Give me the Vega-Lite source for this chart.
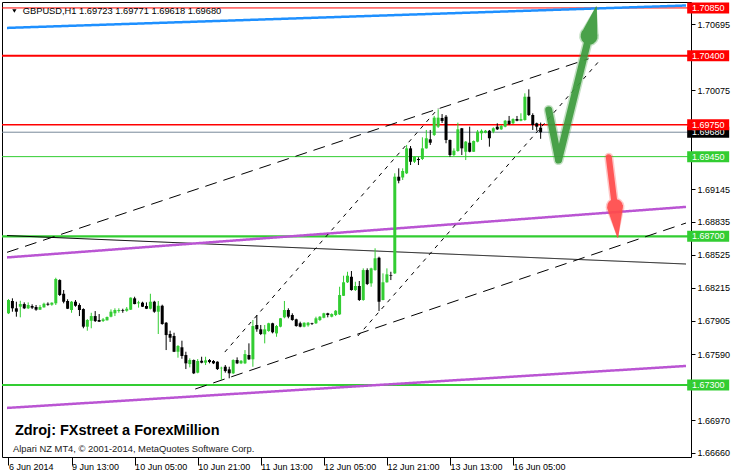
{
  "$schema": "https://vega.github.io/schema/vega-lite/v6.json",
  "width": 689,
  "height": 455,
  "autosize": {"type": "none"},
  "padding": {"left": 2, "top": 2, "right": 43, "bottom": 18},
  "background": "#ffffff",
  "config": {
    "view": {"stroke": "#000000", "strokeWidth": 1},
    "font": "Liberation Sans",
    "axis": {"labelFont": "Liberation Sans", "labelFontSize": 9, "labelColor": "#000000", "tickColor": "#000000", "domain": false, "grid": false}
  },
  "datasets": {
    "candles": [
      {"i":0,"o":1.67975,"h":1.68109,"l":1.67968,"c":1.68100},
      {"i":1,"o":1.68091,"h":1.68116,"l":1.67990,"c":1.68022},
      {"i":2,"o":1.68022,"h":1.68084,"l":1.67943,"c":1.67990},
      {"i":3,"o":1.68037,"h":1.68093,"l":1.67937,"c":1.68062},
      {"i":4,"o":1.68062,"h":1.68078,"l":1.68015,"c":1.68022},
      {"i":5,"o":1.68022,"h":1.68078,"l":1.68015,"c":1.68053},
      {"i":6,"o":1.68044,"h":1.68060,"l":1.68015,"c":1.68028},
      {"i":7,"o":1.68034,"h":1.68053,"l":1.67999,"c":1.68009},
      {"i":8,"o":1.68009,"h":1.68053,"l":1.68006,"c":1.68034},
      {"i":9,"o":1.68031,"h":1.68075,"l":1.68028,"c":1.68065},
      {"i":10,"o":1.68065,"h":1.68078,"l":1.68046,"c":1.68056},
      {"i":11,"o":1.68056,"h":1.68078,"l":1.68046,"c":1.68075},
      {"i":12,"o":1.68069,"h":1.68310,"l":1.68053,"c":1.68298},
      {"i":13,"o":1.68288,"h":1.68295,"l":1.68138,"c":1.68147},
      {"i":14,"o":1.68159,"h":1.68194,"l":1.68069,"c":1.68084},
      {"i":15,"o":1.68091,"h":1.68107,"l":1.68015,"c":1.68018},
      {"i":16,"o":1.68006,"h":1.68091,"l":1.67980,"c":1.68084},
      {"i":17,"o":1.68084,"h":1.68100,"l":1.68037,"c":1.68046},
      {"i":18,"o":1.68053,"h":1.68069,"l":1.67949,"c":1.68006},
      {"i":19,"o":1.68015,"h":1.68022,"l":1.67834,"c":1.67849},
      {"i":20,"o":1.67849,"h":1.67921,"l":1.67811,"c":1.67912},
      {"i":21,"o":1.67905,"h":1.67980,"l":1.67834,"c":1.67949},
      {"i":22,"o":1.67949,"h":1.67996,"l":1.67893,"c":1.67902},
      {"i":23,"o":1.67912,"h":1.67968,"l":1.67893,"c":1.67896},
      {"i":24,"o":1.67902,"h":1.67931,"l":1.67893,"c":1.67918},
      {"i":25,"o":1.67909,"h":1.67945,"l":1.67907,"c":1.67940},
      {"i":26,"o":1.67943,"h":1.68012,"l":1.67937,"c":1.67990},
      {"i":27,"o":1.67975,"h":1.68022,"l":1.67949,"c":1.68006},
      {"i":28,"o":1.67996,"h":1.68022,"l":1.67980,"c":1.68006},
      {"i":29,"o":1.68006,"h":1.68018,"l":1.67980,"c":1.67999},
      {"i":30,"o":1.67999,"h":1.68034,"l":1.67990,"c":1.68018},
      {"i":31,"o":1.68009,"h":1.68125,"l":1.68006,"c":1.68122},
      {"i":32,"o":1.68116,"h":1.68131,"l":1.68060,"c":1.68062},
      {"i":33,"o":1.68069,"h":1.68093,"l":1.68028,"c":1.68078},
      {"i":34,"o":1.68075,"h":1.68084,"l":1.68034,"c":1.68037},
      {"i":35,"o":1.68044,"h":1.68078,"l":1.68015,"c":1.68018},
      {"i":36,"o":1.68018,"h":1.68159,"l":1.68012,"c":1.68084},
      {"i":37,"o":1.68084,"h":1.68093,"l":1.67980,"c":1.67990},
      {"i":38,"o":1.67990,"h":1.68091,"l":1.67780,"c":1.68046},
      {"i":39,"o":1.68046,"h":1.68056,"l":1.67867,"c":1.67874},
      {"i":40,"o":1.67886,"h":1.67893,"l":1.67629,"c":1.67770},
      {"i":41,"o":1.67780,"h":1.67811,"l":1.67705,"c":1.67745},
      {"i":42,"o":1.67761,"h":1.67792,"l":1.67610,"c":1.67613},
      {"i":43,"o":1.67613,"h":1.67676,"l":1.67557,"c":1.67667},
      {"i":44,"o":1.67655,"h":1.67717,"l":1.67547,"c":1.67573},
      {"i":45,"o":1.67582,"h":1.67613,"l":1.67450,"c":1.67504},
      {"i":46,"o":1.67497,"h":1.67551,"l":1.67466,"c":1.67535},
      {"i":47,"o":1.67535,"h":1.67540,"l":1.67403,"c":1.67410},
      {"i":48,"o":1.67416,"h":1.67544,"l":1.67410,"c":1.67526},
      {"i":49,"o":1.67528,"h":1.67566,"l":1.67504,"c":1.67510},
      {"i":50,"o":1.67510,"h":1.67566,"l":1.67488,"c":1.67532},
      {"i":51,"o":1.67535,"h":1.67544,"l":1.67504,"c":1.67516},
      {"i":52,"o":1.67526,"h":1.67535,"l":1.67497,"c":1.67504},
      {"i":53,"o":1.67519,"h":1.67523,"l":1.67441,"c":1.67450},
      {"i":54,"o":1.67457,"h":1.67472,"l":1.67347,"c":1.67462},
      {"i":55,"o":1.67472,"h":1.67488,"l":1.67416,"c":1.67431},
      {"i":56,"o":1.67447,"h":1.67472,"l":1.67363,"c":1.67410},
      {"i":57,"o":1.67410,"h":1.67542,"l":1.67403,"c":1.67535},
      {"i":58,"o":1.67535,"h":1.67560,"l":1.67497,"c":1.67504},
      {"i":59,"o":1.67504,"h":1.67535,"l":1.67497,"c":1.67528},
      {"i":60,"o":1.67504,"h":1.67629,"l":1.67497,"c":1.67591},
      {"i":61,"o":1.67582,"h":1.67692,"l":1.67535,"c":1.67542},
      {"i":62,"o":1.67542,"h":1.67912,"l":1.67472,"c":1.67855},
      {"i":63,"o":1.67865,"h":1.67959,"l":1.67801,"c":1.67824},
      {"i":64,"o":1.67824,"h":1.67865,"l":1.67770,"c":1.67780},
      {"i":65,"o":1.67777,"h":1.67865,"l":1.67692,"c":1.67824},
      {"i":66,"o":1.67808,"h":1.67886,"l":1.67801,"c":1.67881},
      {"i":67,"o":1.67881,"h":1.67886,"l":1.67786,"c":1.67796},
      {"i":68,"o":1.67786,"h":1.67865,"l":1.67754,"c":1.67855},
      {"i":69,"o":1.67849,"h":1.67931,"l":1.67843,"c":1.67928},
      {"i":70,"o":1.67937,"h":1.68091,"l":1.67928,"c":1.68006},
      {"i":71,"o":1.68006,"h":1.68022,"l":1.67928,"c":1.67943},
      {"i":72,"o":1.67959,"h":1.67975,"l":1.67905,"c":1.67912},
      {"i":73,"o":1.67918,"h":1.67924,"l":1.67849,"c":1.67855},
      {"i":74,"o":1.67881,"h":1.67896,"l":1.67843,"c":1.67849},
      {"i":75,"o":1.67849,"h":1.67890,"l":1.67843,"c":1.67886},
      {"i":76,"o":1.67862,"h":1.67893,"l":1.67849,"c":1.67886},
      {"i":77,"o":1.67881,"h":1.67886,"l":1.67865,"c":1.67874},
      {"i":78,"o":1.67881,"h":1.67943,"l":1.67874,"c":1.67928},
      {"i":79,"o":1.67912,"h":1.67949,"l":1.67902,"c":1.67943},
      {"i":80,"o":1.67933,"h":1.67980,"l":1.67928,"c":1.67975},
      {"i":81,"o":1.67975,"h":1.67980,"l":1.67937,"c":1.67959},
      {"i":82,"o":1.67943,"h":1.67975,"l":1.67937,"c":1.67968},
      {"i":83,"o":1.67959,"h":1.68006,"l":1.67949,"c":1.67999},
      {"i":84,"o":1.67965,"h":1.68225,"l":1.67959,"c":1.68147},
      {"i":85,"o":1.68140,"h":1.68329,"l":1.68138,"c":1.68267},
      {"i":86,"o":1.68267,"h":1.68366,"l":1.68260,"c":1.68329},
      {"i":87,"o":1.68319,"h":1.68373,"l":1.68188,"c":1.68194},
      {"i":88,"o":1.68194,"h":1.68272,"l":1.68185,"c":1.68232},
      {"i":89,"o":1.68232,"h":1.68279,"l":1.68091,"c":1.68100},
      {"i":90,"o":1.68100,"h":1.68398,"l":1.68093,"c":1.68382},
      {"i":91,"o":1.68382,"h":1.68398,"l":1.68241,"c":1.68251},
      {"i":92,"o":1.68257,"h":1.68404,"l":1.68225,"c":1.68398},
      {"i":93,"o":1.68382,"h":1.68587,"l":1.68376,"c":1.68493},
      {"i":94,"o":1.68498,"h":1.68508,"l":1.67996,"c":1.68084},
      {"i":95,"o":1.68100,"h":1.68351,"l":1.68097,"c":1.68267},
      {"i":96,"o":1.68267,"h":1.68398,"l":1.68263,"c":1.68342},
      {"i":97,"o":1.68335,"h":1.68366,"l":1.68288,"c":1.68329},
      {"i":98,"o":1.68351,"h":1.69293,"l":1.68345,"c":1.69261},
      {"i":99,"o":1.69261,"h":1.69340,"l":1.69199,"c":1.69223},
      {"i":100,"o":1.69254,"h":1.69340,"l":1.69230,"c":1.69315},
      {"i":101,"o":1.69293,"h":1.69560,"l":1.69286,"c":1.69528},
      {"i":102,"o":1.69528,"h":1.69550,"l":1.69371,"c":1.69402},
      {"i":103,"o":1.69402,"h":1.69456,"l":1.69390,"c":1.69449},
      {"i":104,"o":1.69428,"h":1.69444,"l":1.69371,"c":1.69418},
      {"i":105,"o":1.69428,"h":1.69632,"l":1.69418,"c":1.69528},
      {"i":106,"o":1.69528,"h":1.69701,"l":1.69525,"c":1.69623},
      {"i":107,"o":1.69613,"h":1.69701,"l":1.69560,"c":1.69581},
      {"i":108,"o":1.69654,"h":1.69833,"l":1.69644,"c":1.69817},
      {"i":109,"o":1.69732,"h":1.69896,"l":1.69720,"c":1.69817},
      {"i":110,"o":1.69814,"h":1.69851,"l":1.69767,"c":1.69786},
      {"i":111,"o":1.69826,"h":1.69842,"l":1.69576,"c":1.69607},
      {"i":112,"o":1.69607,"h":1.69611,"l":1.69449,"c":1.69465},
      {"i":113,"o":1.69465,"h":1.69528,"l":1.69456,"c":1.69506},
      {"i":114,"o":1.69503,"h":1.69770,"l":1.69496,"c":1.69707},
      {"i":115,"o":1.69717,"h":1.69720,"l":1.69465,"c":1.69528},
      {"i":116,"o":1.69496,"h":1.69597,"l":1.69418,"c":1.69591},
      {"i":117,"o":1.69581,"h":1.69732,"l":1.69491,"c":1.69496},
      {"i":118,"o":1.69496,"h":1.69602,"l":1.69494,"c":1.69597},
      {"i":119,"o":1.69591,"h":1.69701,"l":1.69585,"c":1.69685},
      {"i":120,"o":1.69670,"h":1.69707,"l":1.69607,"c":1.69694},
      {"i":121,"o":1.69675,"h":1.69701,"l":1.69670,"c":1.69694},
      {"i":122,"o":1.69694,"h":1.69701,"l":1.69544,"c":1.69623},
      {"i":123,"o":1.69685,"h":1.69726,"l":1.69670,"c":1.69717},
      {"i":124,"o":1.69732,"h":1.69764,"l":1.69701,"c":1.69707},
      {"i":125,"o":1.69707,"h":1.69748,"l":1.69701,"c":1.69738},
      {"i":126,"o":1.69732,"h":1.69795,"l":1.69726,"c":1.69788},
      {"i":127,"o":1.69788,"h":1.69833,"l":1.69748,"c":1.69757},
      {"i":128,"o":1.69764,"h":1.69811,"l":1.69757,"c":1.69804},
      {"i":129,"o":1.69804,"h":1.69833,"l":1.69783,"c":1.69788},
      {"i":130,"o":1.69788,"h":1.69858,"l":1.69783,"c":1.69804},
      {"i":131,"o":1.69795,"h":1.70046,"l":1.69788,"c":1.70014},
      {"i":132,"o":1.70014,"h":1.70084,"l":1.69833,"c":1.69842},
      {"i":133,"o":1.69842,"h":1.69858,"l":1.69701,"c":1.69748},
      {"i":134,"o":1.69764,"h":1.69770,"l":1.69694,"c":1.69732},
      {"i":135,"o":1.69723,"h":1.69771,"l":1.69618,"c":1.69680}
    ],
    "levels": [
      {"p":1.69680,"kind":"bid"},
      {"p":1.70850,"kind":"target"},
      {"p":1.70400,"kind":"resistance strong"},
      {"p":1.69750,"kind":"resistance"},
      {"p":1.69450,"kind":"support"},
      {"p":1.68700,"kind":"support strong"},
      {"p":1.67300,"kind":"support strong"}
    ],
    "trend": [
      {"id":"blue","kind":"resistance trend","i":-0.375,"p":1.70662},
      {"id":"blue","kind":"resistance trend","i":171.875,"p":1.70873},
      {"id":"black","kind":"down trend","i":-0.375,"p":1.68707},
      {"id":"black","kind":"down trend","i":171.875,"p":1.68439},
      {"id":"purple1","kind":"support trend","i":-0.375,"p":1.68501},
      {"id":"purple1","kind":"support trend","i":171.875,"p":1.68977},
      {"id":"purple2","kind":"support trend","i":-0.375,"p":1.67084},
      {"id":"purple2","kind":"support trend","i":171.875,"p":1.67479},
      {"id":"outer1","kind":"outer channel","i":-0.375,"p":1.68549},
      {"id":"outer1","kind":"outer channel","i":147.125,"p":1.70371},
      {"id":"outer2","kind":"outer channel","i":47.375,"p":1.67262},
      {"id":"outer2","kind":"outer channel","i":171.875,"p":1.68825},
      {"id":"inner1","kind":"inner channel","i":54.875,"p":1.67610},
      {"id":"inner1","kind":"inner channel","i":109.125,"p":1.69908},
      {"id":"inner2","kind":"inner channel","i":88.625,"p":1.67761},
      {"id":"inner2","kind":"inner channel","i":149.625,"p":1.70341}
    ],
    "arrows": [
      {"arrow":"up","k":0,"part":"shaft","i":137.05,"p":1.69889},
      {"arrow":"up","k":1,"part":"shaft","i":139.55,"p":1.69418},
      {"arrow":"up","k":2,"part":"shaft","i":147.225,"p":1.70576},
      {"arrow":"up","k":3,"part":"head","i":147.3,"p":1.70585},
      {"arrow":"up","k":4,"part":"tip","i":149.125,"p":1.70859},
      {"arrow":"down","k":0,"part":"shaft","i":152.3,"p":1.69444},
      {"arrow":"down","k":1,"part":"shaft","i":153.825,"p":1.68985},
      {"arrow":"down","k":2,"part":"head","i":153.875,"p":1.68976},
      {"arrow":"down","k":3,"part":"tip","i":154.55,"p":1.68691}
    ],
    "notes": [
      {"role":"header","text":"GBPUSD,H1  1.69723 1.69771 1.69618 1.69680"},
      {"role":"source","text":"Zdroj: FXstreet a ForexMillion"},
      {"role":"credit","text":"Alpari NZ MT4, © 2001-2014, MetaQuotes Software Corp."}
    ]
  },
  "resolve": {"scale": {"color": "independent", "strokeWidth": "independent", "strokeDash": "independent", "size": "independent"}},
  "layer": [
    {
      "data": {"name": "levels"},
      "mark": {"type": "rule", "clip": true},
      "encoding": {
        "y": {"field": "p", "type": "quantitative", "title": null, "scale": {"domain": [1.66622, 1.70906], "nice": false, "zero": false}},
        "color": {"field": "kind", "type": "nominal", "legend": null, "scale": {"type": "ordinal", "domain": ["target","resistance strong","resistance","bid","support","support strong"], "range": ["#FF0000","#FF0000","#FF0000","#778899","#32CD32","#32CD32"]}},
        "strokeWidth": {"field": "kind", "type": "nominal", "legend": null, "scale": {"type": "ordinal", "domain": ["target","resistance strong","resistance","bid","support","support strong"], "range": [1, 2, 1.5, 1, 1, 2.2]}}
      }
    },
    {
      "data": {"name": "trend"},
      "mark": {"type": "line", "clip": true},
      "encoding": {
        "x": {"field": "i", "type": "quantitative", "title": null, "scale": {"domain": [-0.375, 171.875], "nice": false, "zero": false}},
        "y": {"field": "p", "type": "quantitative", "title": null, "scale": {"domain": [1.66622, 1.70906], "nice": false, "zero": false}},
        "detail": {"field": "id"},
        "color": {"field": "kind", "type": "nominal", "legend": null, "scale": {"type": "ordinal", "domain": ["resistance trend","support trend","down trend","outer channel","inner channel"], "range": ["#1E90FF","#BA55D3","#000000","#000000","#000000"]}},
        "strokeWidth": {"field": "kind", "type": "nominal", "legend": null, "scale": {"type": "ordinal", "domain": ["resistance trend","support trend","down trend","outer channel","inner channel"], "range": [2.5, 2.5, 1, 1, 1]}},
        "strokeDash": {"field": "kind", "type": "nominal", "legend": null, "scale": {"type": "ordinal", "domain": ["resistance trend","support trend","down trend","outer channel","inner channel"], "range": [[1,0],[1,0],[1,0],[12,7],[4,5]]}}
      }
    },
    {
      "data": {"name": "candles"},
      "mark": {"type": "rule", "strokeWidth": 1},
      "encoding": {
        "x": {"field": "i", "type": "quantitative", "title": null, "scale": {"domain": [-0.375, 171.875], "nice": false, "zero": false}},
        "y": {"field": "l", "type": "quantitative", "title": null, "scale": {"domain": [1.66622, 1.70906], "nice": false, "zero": false}},
        "y2": {"field": "h"},
        "color": {"condition": {"test": "datum.c >= datum.o", "value": "#32CD32"}, "value": "#000000"}
      }
    },
    {
      "data": {"name": "candles"},
      "mark": {"type": "bar", "width": 3, "orient": "vertical"},
      "encoding": {
        "x": {"field": "i", "type": "quantitative", "title": null, "scale": {"domain": [-0.375, 171.875], "nice": false, "zero": false},
          "axis": {"orient": "bottom", "title": null, "values": [0,16,32,48,64,80,96,112,128],
            "labelExpr": "['6 Jun 2014','9 Jun 13:00','10 Jun 05:00','10 Jun 21:00','11 Jun 13:00','12 Jun 05:00','12 Jun 21:00','13 Jun 13:00','16 Jun 05:00'][round(datum.value/16)]",
            "labelAlign": "left", "labelDx": 1, "labelBaseline": "alphabetic", "labelPadding": 4, "tickSize": 8,
            "labelFlush": false, "labelOverlap": false, "labelBound": false, "domain": false, "grid": false}},
        "y": {"field": "o", "type": "quantitative", "title": null, "scale": {"domain": [1.66622, 1.70906], "nice": false, "zero": false},
          "axis": {"orient": "right", "title": null, "values": [1.70695,1.70075,1.69145,1.68835,1.68525,1.68215,1.67905,1.6759,1.6697,1.6666],
            "format": ".5f", "tickSize": 4, "labelPadding": 2, "labelAlign": "left", "labelBaseline": "middle",
            "labelFlush": false, "labelOverlap": false, "labelBound": false, "domain": false, "grid": false}},
        "y2": {"field": "c"},
        "color": {"condition": {"test": "datum.c >= datum.o", "value": "#32CD32"}, "value": "#000000"}
      }
    },
    {
      "data": {"name": "arrows"},
      "transform": [{"filter": "datum.arrow == 'up'"}],
      "mark": {"type": "trail", "color": "#3C9A3C", "opacity": 0.3, "clip": false},
      "encoding": {
        "x": {"field": "i", "type": "quantitative", "title": null, "scale": {"domain": [-0.375, 171.875], "nice": false, "zero": false}},
        "y": {"field": "p", "type": "quantitative", "title": null, "scale": {"domain": [1.66622, 1.70906], "nice": false, "zero": false}},
        "order": {"field": "k"},
        "size": {"field": "part", "type": "nominal", "legend": null, "scale": {"type": "ordinal", "domain": ["shaft","head","tip"], "range": [10, 20, 0]}}
      }
    },
    {
      "data": {"name": "arrows"},
      "transform": [{"filter": "datum.arrow == 'up'"}],
      "mark": {"type": "trail", "color": "#3C9A3C", "opacity": 0.9, "clip": false},
      "encoding": {
        "x": {"field": "i", "type": "quantitative", "title": null, "scale": {"domain": [-0.375, 171.875], "nice": false, "zero": false}},
        "y": {"field": "p", "type": "quantitative", "title": null, "scale": {"domain": [1.66622, 1.70906], "nice": false, "zero": false}},
        "order": {"field": "k"},
        "size": {"field": "part", "type": "nominal", "legend": null, "scale": {"type": "ordinal", "domain": ["shaft","head","tip"], "range": [7, 17, 0]}}
      }
    },
    {
      "data": {"name": "arrows"},
      "transform": [{"filter": "datum.arrow == 'down'"}],
      "mark": {"type": "trail", "color": "#FF4A4A", "opacity": 0.3, "clip": false},
      "encoding": {
        "x": {"field": "i", "type": "quantitative", "title": null, "scale": {"domain": [-0.375, 171.875], "nice": false, "zero": false}},
        "y": {"field": "p", "type": "quantitative", "title": null, "scale": {"domain": [1.66622, 1.70906], "nice": false, "zero": false}},
        "order": {"field": "k"},
        "size": {"field": "part", "type": "nominal", "legend": null, "scale": {"type": "ordinal", "domain": ["shaft","head","tip"], "range": [9, 19, 0]}}
      }
    },
    {
      "data": {"name": "arrows"},
      "transform": [{"filter": "datum.arrow == 'down'"}],
      "mark": {"type": "trail", "color": "#FF4A4A", "opacity": 0.9, "clip": false},
      "encoding": {
        "x": {"field": "i", "type": "quantitative", "title": null, "scale": {"domain": [-0.375, 171.875], "nice": false, "zero": false}},
        "y": {"field": "p", "type": "quantitative", "title": null, "scale": {"domain": [1.66622, 1.70906], "nice": false, "zero": false}},
        "order": {"field": "k"},
        "size": {"field": "part", "type": "nominal", "legend": null, "scale": {"type": "ordinal", "domain": ["shaft","head","tip"], "range": [6, 16, 0]}}
      }
    },
    {
      "data": {"name": "notes"},
      "transform": [{"filter": "datum.role == 'header'"}],
      "mark": {"type": "text", "align": "left", "baseline": "alphabetic", "fontSize": 9.3, "color": "#000000", "clip": false},
      "encoding": {
        "x": {"datum": 3.625, "type": "quantitative", "scale": {"domain": [-0.375, 171.875], "nice": false, "zero": false}},
        "y": {"datum": 1.70793, "type": "quantitative", "scale": {"domain": [1.66622, 1.70906], "nice": false, "zero": false}},
        "text": {"field": "text"}
      }
    },
    {
      "data": {"name": "notes"},
      "transform": [{"filter": "datum.role == 'header'"}],
      "mark": {"type": "point", "shape": "triangle-down", "filled": true, "size": 18, "color": "#000000", "opacity": 1, "clip": false},
      "encoding": {
        "x": {"datum": 1.5, "type": "quantitative", "scale": {"domain": [-0.375, 171.875], "nice": false, "zero": false}},
        "y": {"datum": 1.70821, "type": "quantitative", "scale": {"domain": [1.66622, 1.70906], "nice": false, "zero": false}}
      }
    },
    {
      "data": {"name": "notes"},
      "transform": [{"filter": "datum.role == 'source'"}],
      "mark": {"type": "text", "align": "left", "baseline": "alphabetic", "fontSize": 14.5, "fontWeight": "bold", "color": "#000000", "clip": false},
      "encoding": {
        "x": {"datum": 1.625, "type": "quantitative", "scale": {"domain": [-0.375, 171.875], "nice": false, "zero": false}},
        "y": {"datum": 1.66829, "type": "quantitative", "scale": {"domain": [1.66622, 1.70906], "nice": false, "zero": false}},
        "text": {"field": "text"}
      }
    },
    {
      "data": {"name": "notes"},
      "transform": [{"filter": "datum.role == 'credit'"}],
      "mark": {"type": "text", "align": "left", "baseline": "alphabetic", "fontSize": 9.4, "color": "#222222", "clip": false},
      "encoding": {
        "x": {"datum": 1.125, "type": "quantitative", "scale": {"domain": [-0.375, 171.875], "nice": false, "zero": false}},
        "y": {"datum": 1.66672, "type": "quantitative", "scale": {"domain": [1.66622, 1.70906], "nice": false, "zero": false}},
        "text": {"field": "text"}
      }
    },
    {
      "data": {"name": "levels"},
      "transform": [{"filter": "datum.kind == 'bid'"}],
      "mark": {"type": "tick", "orient": "horizontal", "thickness": 11, "size": 42, "color": "#000000", "opacity": 1, "clip": false},
      "encoding": {
        "x": {"datum": 177.5, "type": "quantitative", "scale": {"domain": [-0.375, 171.875], "nice": false, "zero": false}},
        "y": {"field": "p", "type": "quantitative", "title": null, "scale": {"domain": [1.66622, 1.70906], "nice": false, "zero": false}}
      }
    },
    {
      "data": {"name": "levels"},
      "transform": [{"filter": "datum.kind == 'bid'"}],
      "mark": {"type": "text", "align": "left", "baseline": "middle", "fontSize": 9, "color": "#ffffff", "clip": false},
      "encoding": {
        "x": {"datum": 173.375, "type": "quantitative", "scale": {"domain": [-0.375, 171.875], "nice": false, "zero": false}},
        "y": {"field": "p", "type": "quantitative", "title": null, "scale": {"domain": [1.66622, 1.70906], "nice": false, "zero": false}},
        "text": {"field": "p", "type": "quantitative", "format": ".5f"}
      }
    },
    {
      "data": {"name": "levels"},
      "transform": [{"filter": "datum.kind != 'bid'"}],
      "mark": {"type": "tick", "orient": "horizontal", "thickness": 11, "size": 42, "opacity": 1, "clip": false},
      "encoding": {
        "x": {"datum": 177.5, "type": "quantitative", "scale": {"domain": [-0.375, 171.875], "nice": false, "zero": false}},
        "y": {"field": "p", "type": "quantitative", "title": null, "scale": {"domain": [1.66622, 1.70906], "nice": false, "zero": false}},
        "color": {"field": "kind", "type": "nominal", "legend": null, "scale": {"type": "ordinal", "domain": ["target","resistance strong","resistance","support","support strong"], "range": ["#FF0000","#FF0000","#FF0000","#32CD32","#32CD32"]}}
      }
    },
    {
      "data": {"name": "levels"},
      "transform": [{"filter": "datum.kind != 'bid'"}],
      "mark": {"type": "text", "align": "left", "baseline": "middle", "fontSize": 9, "color": "#ffffff", "clip": false},
      "encoding": {
        "x": {"datum": 173.375, "type": "quantitative", "scale": {"domain": [-0.375, 171.875], "nice": false, "zero": false}},
        "y": {"field": "p", "type": "quantitative", "title": null, "scale": {"domain": [1.66622, 1.70906], "nice": false, "zero": false}},
        "text": {"field": "p", "type": "quantitative", "format": ".5f"}
      }
    }
  ]
}
